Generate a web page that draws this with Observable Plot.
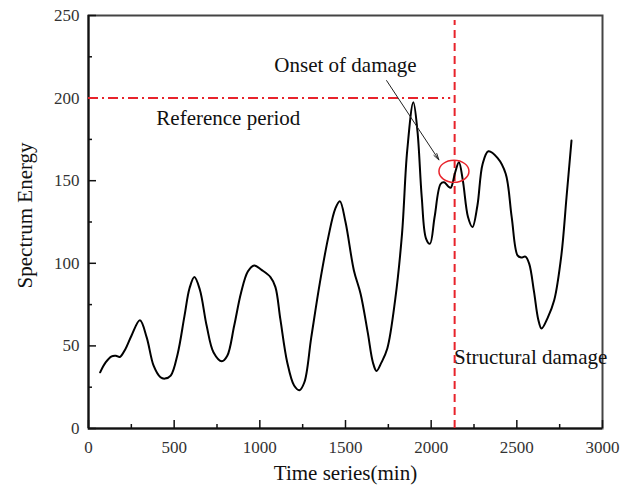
<!DOCTYPE html>
<html><head><meta charset="utf-8">
<script src="https://cdn.jsdelivr.net/npm/d3@7"></script>
<script src="https://cdn.jsdelivr.net/npm/@observablehq/plot@0.6"></script>
<style>
body{margin:0;background:#fff}
svg{font-family:"Liberation Serif","Times New Roman",serif}
</style>
</head><body><div id="chart"></div>
<script>
// Time (min) and spectrum energy
const times  = [68,100,135,160,183,215,250,300,340,380,420,446,480,520,560,590,618,650,690,730,778,810,850,890,930,967,1010,1062,1091,1120,1160,1200,1231,1260,1300,1350,1400,1440,1467,1500,1549,1588,1630,1660,1681,1710,1744,1790,1830,1860,1896,1920,1945,1970,1993,2020,2055,2075,2100,2114,2140,2162,2185,2215,2241,2270,2300,2334,2387,2435,2470,2504,2525,2550,2572,2600,2625,2644,2680,2718,2760,2790,2819];
const energy = [34,40,43.7,44,43.3,48,56,65.5,55,38,31,30.2,32,45,68,85,91.7,84,62,46,40.7,44,62,82,95,98.7,96,91.7,85.6,66,40,26,23.2,28,55,88,116,133,137.6,125,95.7,81.6,58,40,34.8,40,48.4,78,118,168,197.5,180,140,115,111.8,128,148,149,146.5,145.7,155,161.2,150,128,121.9,135,160,167.8,163.8,154.2,128,104.8,103.5,104,99.8,83,66,60.5,67,77.6,105,140,174.3];

const xMajorTicks = [0,500,1000,1500,2000,2500,3000];
const xMinorTicks = [250,750,1250,1750,2250,2750];
const yMajorTicks = [0,50,100,150,200,250];
const yMinorTicks = [25,75,125,175,225];

const referenceLevel = 200;      // reference energy level
const referenceEnd = 2114;        // end of the reference period line
const damageTime = 2137;          // structural damage time
const onsetPoint = [2133, 155.7]; // circled onset of damage
const arrowFrom = [1740, 210.6];
const arrowTo = [2045, 162.6];

const series = times.map((t, i) => ({t, e: energy[i]}));

const ellipse = {
  draw(ctx) {
    const rx = 15, ry = 11, k = 0.5523;
    ctx.moveTo(rx, 0);
    ctx.bezierCurveTo(rx, ry * k, rx * k, ry, 0, ry);
    ctx.bezierCurveTo(-rx * k, ry, -rx, ry * k, -rx, 0);
    ctx.bezierCurveTo(-rx, -ry * k, -rx * k, -ry, 0, -ry);
    ctx.bezierCurveTo(rx * k, -ry, rx, -ry * k, rx, 0);
    ctx.closePath();
  }
};

const red = "#e8232b";

const chart = Plot.plot({
  width: 633,
  height: 490,
  marginTop: 15,
  marginRight: 31,
  marginBottom: 62,
  marginLeft: 88,
  x: {domain: [0, 3000]},
  y: {domain: [0, 250]},
  marks: [
    Plot.frame({stroke: "#444", strokeWidth: 2}),
    Plot.ruleX([0], {stroke: "#111", strokeWidth: 2}),
    Plot.ruleY([0], {stroke: "#111", strokeWidth: 2}),
    // inward ticks
    Plot.ruleX(xMajorTicks, {x: d => d, y1: 0, y2: 0, insetTop: -8, stroke: "#111", strokeWidth: 1.5}),
    Plot.ruleX(xMinorTicks, {x: d => d, y1: 0, y2: 0, insetTop: -4, stroke: "#111", strokeWidth: 1.5}),
    Plot.ruleY(yMajorTicks, {y: d => d, x1: 0, x2: 0, insetRight: -8, stroke: "#111", strokeWidth: 1.5}),
    Plot.ruleY(yMinorTicks, {y: d => d, x1: 0, x2: 0, insetRight: -4, stroke: "#111", strokeWidth: 1.5}),
    Plot.axisX({ticks: xMajorTicks, tickFormat: d => String(d), tickSize: 0, tickPadding: 12, fontSize: 17, color: "#333", label: null}),
    Plot.axisY({ticks: yMajorTicks, tickFormat: d => String(d), tickSize: 0, tickPadding: 9, fontSize: 17, color: "#333", label: null}),
    // reference & damage lines
    Plot.ruleY([referenceLevel], {x1: 0, x2: referenceEnd, stroke: red, strokeWidth: 2, strokeDasharray: "10,4,2,4"}),
    Plot.ruleX([damageTime], {y1: 0, y2: 247, stroke: red, strokeWidth: 2, strokeDasharray: "8,5"}),
    // curve
    Plot.line(series, {x: "t", y: "e", curve: "catmull-rom", stroke: "#000", strokeWidth: 2}),
    // onset marker
    Plot.dot([onsetPoint], {x: d => d[0], y: d => d[1], symbol: ellipse, stroke: red, strokeWidth: 1.5, fill: "none"}),
    Plot.arrow([{a: arrowFrom, b: arrowTo}], {x1: d => d.a[0], y1: d => d.a[1], x2: d => d.b[0], y2: d => d.b[1], stroke: "#222", strokeWidth: 1, headLength: 10, headAngle: 30}),
    // annotation labels
    Plot.text(["Onset of damage"], {x: 1500, y: 219.9, fontSize: 21, fill: "#111"}),
    Plot.text(["Reference period"], {x: 396, y: 187.9, textAnchor: "start", fontSize: 21, fill: "#111"}),
    Plot.text(["Structural damage"], {x: 2133, y: 43.2, textAnchor: "start", fontSize: 21, fill: "#111"}),
    // axis titles
    Plot.text(["Time series(min)"], {frameAnchor: "bottom", lineAnchor: "bottom", dy: 51, fontSize: 21, fill: "#111"}),
    Plot.text(["Spectrum Energy"], {frameAnchor: "left", textAnchor: "middle", lineAnchor: "bottom", rotate: -90, dx: -57, dy: -6.6, fontSize: 21, fill: "#111"})
  ]
});
document.getElementById("chart").appendChild(chart);
</script>
</body></html>
